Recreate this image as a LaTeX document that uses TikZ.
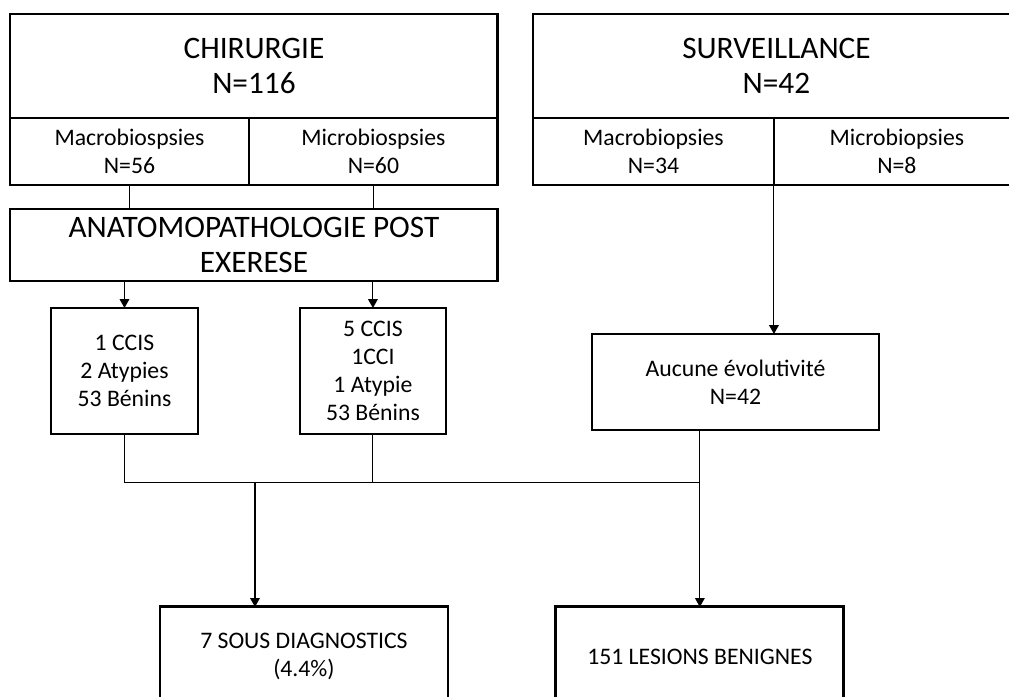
\documentclass[tikz,border=0pt]{standalone}
\usepackage{fontspec}
\setmainfont{Carlito}
\usetikzlibrary{arrows.meta, positioning, calc}

\begin{document}
\begin{tikzpicture}[
    x             = 0.02cm,
    y             = -0.02cm,
    font          = \fontsize{13.5}{16}\selectfont,
    box/.style    = {draw, rectangle, line width=1.6pt, inner sep=0pt,
                     outer sep=0pt, align=center},
    bigbox/.style = {box, font=\fontsize{17.8}{20.2}\selectfont},
    arr/.style    = {-{Triangle[length=5pt, width=5.5pt]}, line width=0.6pt},
    ln/.style     = {line width=0.6pt},
  ]
  \useasboundingbox (0,0) rectangle (1009,697);
  \clip (0,0) rectangle (1009,697);
  % top groups
  \node[bigbox, minimum width=9.76cm, minimum height=2.08cm, anchor=north west]
    (chir) at (10,14) {CHIRURGIE\\N=116};
  \node[box, minimum width=4.78cm, minimum height=1.34cm, anchor=north west]
    (chirmac) at (chir.south west) {Macrobiospsies\\N=56};
  \node[box, minimum width=4.98cm, minimum height=1.34cm, anchor=north west]
    (chirmic) at (chirmac.north east) {Microbiospsies\\N=60};
  \node[bigbox, minimum width=9.74cm, minimum height=2.08cm, anchor=north west]
    (surv) at (533,14) {SURVEILLANCE\\N=42};
  \node[box, minimum width=4.82cm, minimum height=1.34cm, anchor=north west]
    (survmac) at (surv.south west) {Macrobiopsies\\N=34};
  \node[box, minimum width=4.92cm, minimum height=1.34cm, anchor=north west]
    (survmic) at (survmac.north east) {Microbiopsies\\N=8};
  % pathology
  \node[bigbox, minimum width=9.76cm, minimum height=1.44cm,
        below=0.48cm of chirmac.south west, anchor=north west]
    (anapath) {ANATOMOPATHOLOGIE POST\\EXERESE};
  \node[box, minimum width=2.94cm, minimum height=2.52cm,
        below right=0.54cm and 0.82cm of anapath.south west]
    (res1) {1 CCIS\\2 Atypies\\53 Bénins};
  \node[box, minimum width=2.92cm, minimum height=2.52cm, right=2.04cm of res1]
    (res2) {5 CCIS\\1CCI\\1 Atypie\\53 Bénins};
  \node[box, minimum width=5.74cm, minimum height=1.92cm,
        below right=2.98cm and 1.18cm of survmac.south west]
    (aucune) {Aucune évolutivité\\N=42};
  % outcomes
  \node[box, minimum width=5.76cm, minimum height=2.0cm,
        below right=3.46cm and 2.18cm of res1.south west]
    (sous) {7 SOUS DIAGNOSTICS\\(4.4\%)};
  \node[box, minimum width=5.76cm, minimum height=2.0cm, right=2.16cm of sous]
    (benin) {151 LESIONS BENIGNES};

  \coordinate[below=0.98cm of res1.south] (jl);
  \coordinate (jr) at (jl -| benin.north);
  \coordinate (js) at ($(sous.north west)!0.33!(sous.north east)$);

  \draw[ln] (chirmac.south) -- (chirmac.south |- anapath.north);
  \draw[ln] (chirmic.south) -- (chirmic.south |- anapath.north);
  \draw[arr] (anapath.south -| res1.north) -- (res1.north);
  \draw[arr] (anapath.south -| res2.north) -- (res2.north);
  \draw[arr] (survmac.south east) -- (survmac.south east |- aucune.north);
  \draw[ln] (res1.south) -- (jl) -- (jr);
  \draw[ln] (res2.south) -- (res2.south |- jl);
  \draw[ln] (aucune.south -| jr) -- (jr);
  \draw[arr] (jr) -- (benin.north);
  \draw[arr] (jl -| js) -- (js);
\end{tikzpicture}
\end{document}
